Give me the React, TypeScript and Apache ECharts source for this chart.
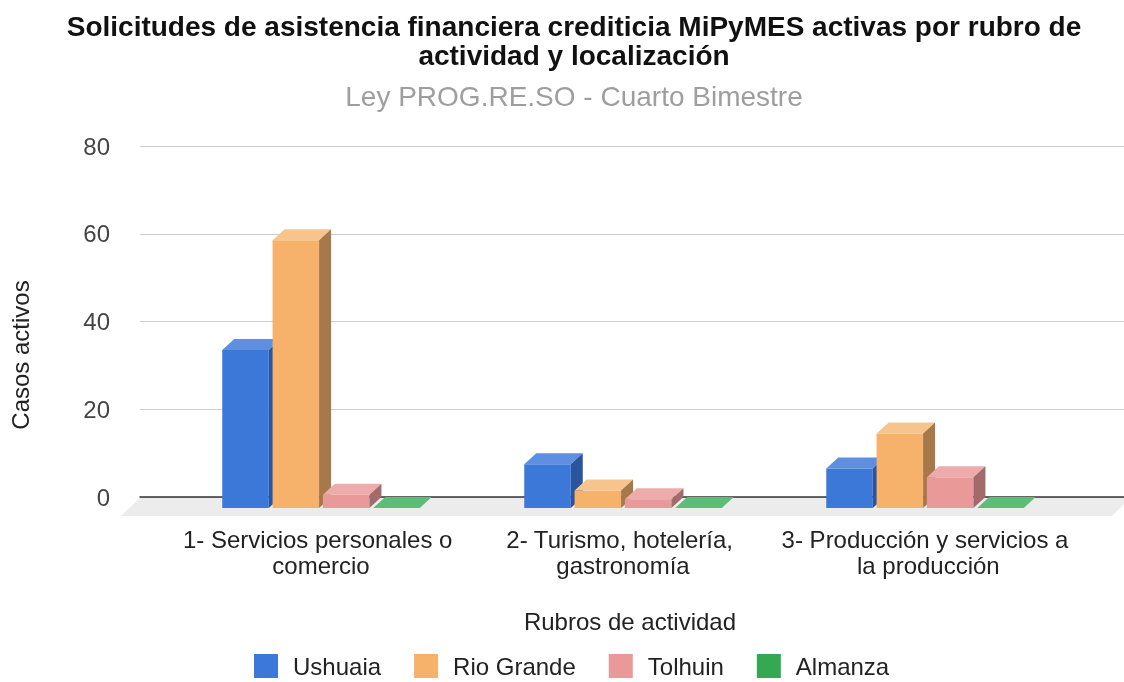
import React, { useEffect, useRef } from "react";
import * as echarts from "echarts";

const categories = [
  "1- Servicios personales o comercio",
  "2- Turismo, hotelería, gastronomía",
  "3- Producción y servicios a la producción",
];
const seriesNames = ["Ushuaia", "Rio Grande", "Tolhuin", "Almanza"];
const ushuaia = [36, 10, 9];
const rioGrande = [61, 4, 17];
const tolhuin = [3, 2, 7];
const almanza = [0, 0, 0];
const yTicks = [0, 20, 40, 60, 80];

const seriesValues = [ushuaia, rioGrande, tolhuin, almanza];
const palette = [
  { front: "#3c78d8", top: "#5f8fe0", side: "#2a549b" },
  { front: "#f6b26b", top: "#f8c48d", side: "#a7784a" },
  { front: "#ea9999", top: "#eeabab", side: "#a26a6a" },
  { front: "#34a853", top: "#5cbc78", side: "#24753a" },
];

const FONT = '"Liberation Sans", Arial, sans-serif';
const DX = 12;
const DY = 11;

export default function App() {
  const ref = useRef<HTMLDivElement>(null);
  useEffect(() => {
    if (!ref.current) return;
    const chart = echarts.init(ref.current, undefined, { renderer: "svg" });
    const series: any[] = seriesValues.map((vals, sIdx) => ({
      type: "custom",
      name: seriesNames[sIdx],
      xAxisIndex: 1,
      yAxisIndex: 1,
      itemStyle: { color: palette[sIdx].front },
      encode: { x: 0, y: 1 },
      data: vals.map((v, i) => [i, v]),
      renderItem: (params: any, api: any) => {
        const ci = api.value(0);
        const v = api.value(1);
        const top = api.coord([ci, v]);
        const base = api.coord([ci, 0]);
        const bw = api.size([1, 0])[0];
        const w = bw * 0.154;
        const pitch = bw / 6;
        const x = top[0] - bw * 0.327 + sIdx * pitch;
        const yT = top[1] + DY;
        const yB = base[1] + DY;
        const c = palette[sIdx];
        return {
          type: "group",
          children: [
            {
              type: "rect",
              shape: { x, y: yT, width: w, height: Math.max(0, yB - yT) },
              style: { fill: c.front },
            },
            {
              type: "polygon",
              shape: {
                points: [
                  [x, yT],
                  [x + DX, yT - DY],
                  [x + w + DX, yT - DY],
                  [x + w, yT],
                ],
              },
              style: { fill: c.top },
            },
            {
              type: "polygon",
              shape: {
                points: [
                  [x + w, yT],
                  [x + w + DX, yT - DY],
                  [x + w + DX, yB - DY],
                  [x + w, yB],
                ],
              },
              style: { fill: c.side },
            },
          ],
        };
      },
    }));

    chart.setOption({
      animation: false,
      color: palette.map((p) => p.front),
      title: {
        text:
          "Solicitudes de asistencia financiera crediticia MiPyMES activas por rubro de\nactividad y localización",
        subtext: "Ley PROG.RE.SO - Cuarto Bimestre",
        left: 569,
        top: 7,
        textAlign: "center",
        itemGap: 11,
        textStyle: {
          fontFamily: FONT,
          fontSize: 28,
          fontWeight: "bold",
          color: "#111",
          lineHeight: 29,
        },
        subtextStyle: {
          fontFamily: FONT,
          fontSize: 28,
          color: "#9e9e9e",
          lineHeight: 30,
        },
      },
      legend: {
        left: 249,
        top: 649,
        icon: "rect",
        itemWidth: 24,
        itemHeight: 24,
        itemGap: 33,
        data: seriesNames,
        textStyle: {
          fontFamily: FONT,
          fontSize: 24,
          lineHeight: 24,
          color: "#222",
          padding: [0, 0, 0, 10],
        },
      },
      grid: [
        { left: 140, right: 0, top: 146, bottom: 185 },
        { left: 170, right: 48, top: 146, bottom: 185 },
      ],
      xAxis: [
        {
          gridIndex: 0,
          type: "value",
          min: 0,
          max: 1,
          axisLine: { show: true, lineStyle: { color: "#333", width: 1.5 } },
          axisTick: { show: false },
          axisLabel: { show: false },
          splitLine: { show: false },
        },
        {
          gridIndex: 1,
          type: "category",
          data: categories,
          axisLine: { show: false },
          axisTick: { show: false },
          axisLabel: {
            interval: 0,
            margin: 29,
            fontFamily: FONT,
            fontSize: 24,
            lineHeight: 26,
            color: "#222",
            width: 300,
            overflow: "break",
          },
        },
      ],
      yAxis: [
        {
          gridIndex: 0,
          type: "value",
          min: yTicks[0],
          max: yTicks[yTicks.length - 1],
          interval: 20,
          axisLine: { show: false },
          axisTick: { show: false },
          axisLabel: {
            margin: 30,
            fontFamily: FONT,
            fontSize: 24,
            color: "#444",
          },
          splitLine: { lineStyle: { color: "#cccccc", width: 1 } },
        },
        {
          gridIndex: 1,
          type: "value",
          min: yTicks[0],
          max: yTicks[yTicks.length - 1],
          interval: 20,
          show: false,
        },
      ],
      graphic: [
        {
          type: "polygon",
          z: -1,
          shape: {
            points: [
              [140, 498],
              [1130, 498],
              [1112, 516],
              [121, 516],
            ],
          },
          style: { fill: "#ececec" },
        },
        {
          type: "text",
          x: 20,
          y: 355,
          rotation: Math.PI / 2,
          style: {
            text: "Casos activos",
            font: `24px ${FONT}`,
            fill: "#222",
            textAlign: "center",
            textVerticalAlign: "middle",
          },
        },
        {
          type: "text",
          x: 630,
          y: 621,
          style: {
            text: "Rubros de actividad",
            font: `24px ${FONT}`,
            fill: "#222",
            textAlign: "center",
            textVerticalAlign: "middle",
          },
        },
      ],
      series,
    });
    return () => chart.dispose();
  }, []);
  return (
    <div
      ref={ref}
      style={{ position: "fixed", left: 0, top: 0, width: 1124, height: 682 }}
    />
  );
}
